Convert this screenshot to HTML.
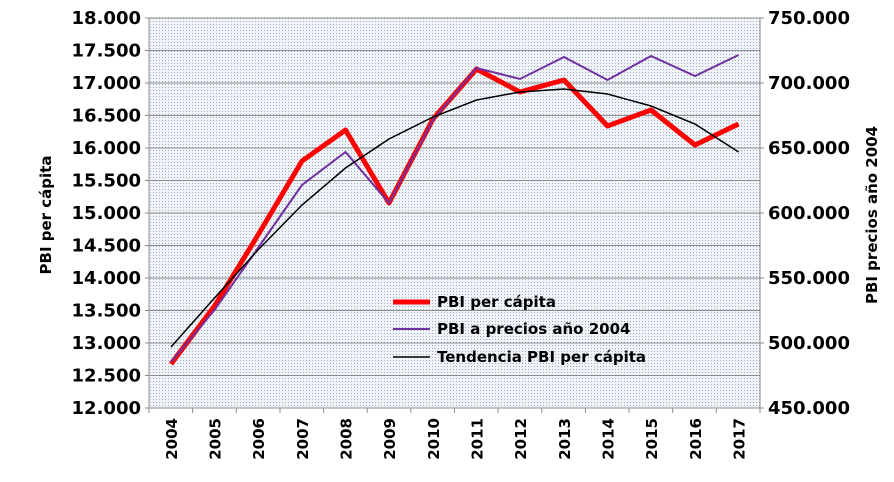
<!DOCTYPE html>
<html><head><meta charset="utf-8"><style>
body{margin:0;background:#fff}
svg{display:block;font-family:"DejaVu Sans","Liberation Sans",sans-serif;font-weight:bold}
</style></head><body>
<svg width="894" height="482" viewBox="0 0 894 482">
<defs>
<pattern id="dots" width="3" height="3" patternUnits="userSpaceOnUse">
<rect width="3" height="3" fill="#f0f4f8"/>
<rect width="1" height="1" fill="#96adc2"/>
</pattern>
</defs>
<rect x="149" y="18" width="611" height="390" fill="url(#dots)"/>
<g stroke="#8c8c8c" stroke-width="1">
<line x1="145" y1="18" x2="760" y2="18"/><line x1="145" y1="50.5" x2="760" y2="50.5"/>
<line x1="145" y1="83" x2="760" y2="83"/><line x1="145" y1="115.5" x2="760" y2="115.5"/>
<line x1="145" y1="148" x2="760" y2="148"/><line x1="145" y1="180.5" x2="760" y2="180.5"/>
<line x1="145" y1="213" x2="760" y2="213"/><line x1="145" y1="245.5" x2="760" y2="245.5"/>
<line x1="145" y1="278" x2="760" y2="278"/><line x1="145" y1="310.5" x2="760" y2="310.5"/>
<line x1="145" y1="343" x2="760" y2="343"/><line x1="145" y1="375.5" x2="760" y2="375.5"/>
<line x1="145" y1="408" x2="764" y2="408"/>
<line x1="149" y1="18" x2="149" y2="413"/><line x1="760" y1="18" x2="760" y2="408"/>
<line x1="760" y1="18" x2="764" y2="18"/><line x1="760" y1="83" x2="764" y2="83"/><line x1="760" y1="148" x2="764" y2="148"/><line x1="760" y1="213" x2="764" y2="213"/><line x1="760" y1="278" x2="764" y2="278"/><line x1="760" y1="343" x2="764" y2="343"/>
<line x1="192.6" y1="408" x2="192.6" y2="413"/><line x1="236.3" y1="408" x2="236.3" y2="413"/><line x1="280" y1="408" x2="280" y2="413"/><line x1="323.6" y1="408" x2="323.6" y2="413"/><line x1="367.2" y1="408" x2="367.2" y2="413"/><line x1="410.8" y1="408" x2="410.8" y2="413"/><line x1="454.5" y1="408" x2="454.5" y2="413"/><line x1="498" y1="408" x2="498" y2="413"/><line x1="541.8" y1="408" x2="541.8" y2="413"/><line x1="585.4" y1="408" x2="585.4" y2="413"/><line x1="629" y1="408" x2="629" y2="413"/><line x1="672.7" y1="408" x2="672.7" y2="413"/><line x1="716.3" y1="408" x2="716.3" y2="413"/><line x1="760" y1="408" x2="760" y2="413"/>
</g>
<g font-size="18" text-anchor="end" fill="#000">
<text x="141" y="24">18.000</text><text x="141" y="56.5">17.500</text><text x="141" y="89">17.000</text><text x="141" y="121.5">16.500</text><text x="141" y="154">16.000</text><text x="141" y="186.5">15.500</text><text x="141" y="219">15.000</text><text x="141" y="251.5">14.500</text><text x="141" y="284">14.000</text><text x="141" y="316.5">13.500</text><text x="141" y="349">13.000</text><text x="141" y="381.5">12.500</text><text x="141" y="414">12.000</text>
</g>
<g font-size="18" text-anchor="start">
<text x="768" y="24">750.000</text><text x="768" y="89">700.000</text><text x="768" y="154">650.000</text><text x="768" y="219">600.000</text><text x="768" y="284">550.000</text><text x="768" y="349">500.000</text><text x="768" y="414">450.000</text>
</g>
<g font-size="15" text-anchor="end">
<text transform="translate(177,418) rotate(-90)">2004</text><text transform="translate(220.5,418) rotate(-90)">2005</text><text transform="translate(264,418) rotate(-90)">2006</text><text transform="translate(308,418) rotate(-90)">2007</text><text transform="translate(351.5,418) rotate(-90)">2008</text><text transform="translate(395,418) rotate(-90)">2009</text><text transform="translate(439,418) rotate(-90)">2010</text><text transform="translate(482.5,418) rotate(-90)">2011</text><text transform="translate(526,418) rotate(-90)">2012</text><text transform="translate(570,418) rotate(-90)">2013</text><text transform="translate(613.5,418) rotate(-90)">2014</text><text transform="translate(657,418) rotate(-90)">2015</text><text transform="translate(701,418) rotate(-90)">2016</text><text transform="translate(744.5,418) rotate(-90)">2017</text>
</g>
<text font-size="15" text-anchor="middle" transform="translate(51,215) rotate(-90)">PBI per cápita</text>
<text font-size="15" text-anchor="middle" transform="translate(877,215) rotate(-90)">PBI precios año 2004</text>
<polyline fill="none" stroke="#ff0000" stroke-width="5" stroke-linejoin="round" points="171,364 214.5,306 258,235 302,161 345.5,130 389,203 433,119 476.5,69 520,92 564,80 607.5,126 651,110 695,145 738.5,124"/>
<polyline fill="none" stroke="#7030a0" stroke-width="2" points="171,362 214.5,310 258,248 302,185 345.5,152 389,203 433,120 476.5,68 520,79 564,57 607.5,80 651,56 695,76 738.5,55"/>
<polyline fill="none" stroke="#000" stroke-width="1.5" points="171,347 214.5,298 258,250 302,205 345.5,168 389,139 433,117 476.5,100 520,92 564,89 607.5,94 651,106 695,124 738.5,152"/>
<line x1="393" y1="302" x2="430" y2="302" stroke="#ff0000" stroke-width="5"/>
<line x1="393" y1="329" x2="430" y2="329" stroke="#7030a0" stroke-width="2"/>
<line x1="393" y1="357" x2="430" y2="357" stroke="#000" stroke-width="1.5"/>
<g font-size="15"><text x="437" y="307">PBI per cápita</text><text x="437" y="334">PBI a precios año 2004</text><text x="437" y="362">Tendencia PBI per cápita</text></g>
</svg>
</body></html>
